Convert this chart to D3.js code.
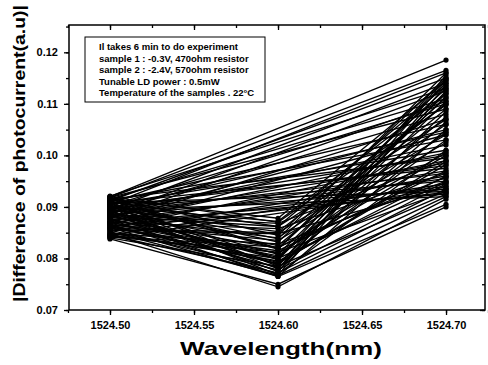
<!DOCTYPE html>
<html><head><meta charset="utf-8">
<script src="https://cdn.jsdelivr.net/npm/d3@7/dist/d3.min.js"></script>
<style>body{margin:0;background:#fff}svg{display:block}text{font-family:"Liberation Sans",Arial,sans-serif;font-weight:bold}</style>
</head><body>
<svg id="c" width="488" height="365"></svg>
<script>
const wavelengths = [1524.50, 1524.60, 1524.70];
const xTicks = [1524.50, 1524.55, 1524.60, 1524.65, 1524.70];
const yTicks = [0.07, 0.08, 0.09, 0.10, 0.11, 0.12];
const notes = [
  "Il takes 6 min  to do experiment",
  "sample 1 : -0.3V, 470ohm resistor",
  "sample 2 : -2.4V, 570ohm resistor",
  "Tunable LD power : 0.5mW",
  "Temperature of the samples . 22\u00B0C"
];
// photocurrent difference at 1524.50 nm
const at1 = [0.0920,0.0918,0.0905,0.0912,0.0895,0.0921,0.0885,0.0915,0.0902,0.0878,
0.0918,0.0890,0.0870,0.0910,0.0880,0.0898,0.0865,0.0912,0.0888,0.0905,
0.0872,0.0895,0.0915,0.0860,0.0882,0.0900,0.0908,0.0868,0.0890,0.0852,
0.0875,0.0898,0.0845,0.0862,0.0885,0.0908,0.0840,0.0870,0.0893,0.0858,
0.0915,0.0900,0.0885,0.0910,0.0870,0.0895,0.0855,0.0918,0.0880,0.0865,
0.0902,0.0848,0.0890,0.0875,0.0912,0.0858,0.0842,0.0897,0.0868,0.0883,
0.0906,0.0850,0.0878,0.0862,0.0893,0.0840,0.0872,0.0903,0.0855,0.0886,
0.0845,0.0866,0.0898,0.0852,0.0876,0.0860,0.0838,0.0848,0.0910,0.0888,
0.0870,0.0843,0.0905,0.0858,0.0882,0.0920,0.0846,0.0892,0.0864,0.0916];
// at 1524.60 nm (null: not measured for that run)
const at2 = [null,null,null,null,null,null,null,null,null,null,
null,null,null,null,null,null,null,null,null,null,
null,null,null,null,null,null,null,null,null,null,
null,null,null,null,null,null,null,null,null,null,
0.0878,0.0872,0.0868,0.0862,0.0858,0.0852,0.0848,0.0845,0.0840,0.0835,
0.0832,0.0828,0.0825,0.0820,0.0818,0.0815,0.0812,0.0808,0.0805,0.0802,
0.0798,0.0795,0.0792,0.0790,0.0788,0.0785,0.0782,0.0780,0.0778,0.0775,
0.0772,0.0770,0.0768,0.0767,0.0765,0.0765,0.0750,0.0745,0.0785,0.0798,
0.0810,0.0822,0.0838,0.0850,0.0862,0.0870,0.0800,0.0775,0.0790,0.0820];
// at 1524.70 nm
const at3 = [0.1185,0.1165,0.1160,0.1150,0.1140,0.1130,0.1125,0.1110,0.1100,0.1105,
0.1090,0.1080,0.1070,0.1060,0.1050,0.1045,0.1040,0.1030,0.1020,0.1010,
0.1005,0.1000,0.0995,0.0990,0.0985,0.0980,0.0975,0.0970,0.0965,0.0960,
0.0955,0.0950,0.0945,0.0940,0.0935,0.0930,0.0935,0.0925,0.0920,0.0928,
0.1145,0.1120,0.0990,0.1135,0.0965,0.1100,0.0940,0.1150,0.1060,0.1025,
0.1130,0.0950,0.1090,0.1005,0.1140,0.0970,0.0930,0.1120,0.1045,0.1075,
0.1148,0.0960,0.1030,0.0988,0.1105,0.0925,0.1065,0.1125,0.0945,0.1085,
0.0935,0.1010,0.1135,0.0920,0.1050,0.0905,0.0900,0.0915,0.1155,0.1115,
0.1000,0.0958,0.1160,0.1040,0.1070,0.1098,0.0948,0.1145,0.0982,0.1112];

const svg = d3.select("#c");
const L = 69, R = 485, T = 25, B = 310;
const x = d3.scaleLinear().domain([1524.4756, 1524.7232]).range([L, R]);
const y = d3.scaleLinear().domain([0.07, 0.1253]).range([B, T]);

const runs = at1.map((v, i) => [[wavelengths[0], v], [wavelengths[1], at2[i]], [wavelengths[2], at3[i]]]
  .filter(p => p[1] !== null));
const line = d3.line().x(d => x(d[0])).y(d => y(d[1]));
const g = svg.append("g");
g.selectAll("path.run").data(runs).join("path").attr("class", "run")
  .attr("d", line).attr("fill", "none").attr("stroke", "#000").attr("stroke-width", 1.35);
g.selectAll("circle").data(runs.flat()).join("circle")
  .attr("cx", d => x(d[0])).attr("cy", d => y(d[1])).attr("r", 2.6).attr("fill", "#000");

// frame
svg.append("rect").attr("x", L).attr("y", T).attr("width", R - L).attr("height", B - T)
  .attr("fill", "none").attr("stroke", "#000").attr("stroke-width", 1.5);

const xMinor = d3.range(1524.475, 1524.7251, 0.025);
const yMinor = d3.range(0.07, 0.1251, 0.005);
function styleAxis(sel) { sel.select(".domain").remove(); sel.selectAll("line").attr("stroke", "#000").attr("stroke-width", 1.3); sel.selectAll("text").attr("font-size", 11).attr("fill", "#000"); }

svg.append("g").attr("transform", `translate(0,${B})`)
  .call(d3.axisBottom(x).tickValues(xMinor).tickSize(3).tickFormat("")).call(styleAxis);
svg.append("g").attr("transform", `translate(0,${B})`)
  .call(d3.axisBottom(x).tickValues(xTicks).tickSize(5).tickPadding(6).tickFormat(d3.format(".2f"))).call(styleAxis);
svg.append("g").attr("transform", `translate(0,${T})`)
  .call(d3.axisBottom(x).tickValues(xMinor).tickSize(3).tickFormat("")).call(styleAxis);
svg.append("g").attr("transform", `translate(0,${T})`)
  .call(d3.axisBottom(x).tickValues(xTicks).tickSize(5).tickFormat("")).call(styleAxis);

svg.append("g").attr("transform", `translate(${L},0)`)
  .call(d3.axisLeft(y).tickValues(yMinor).tickSize(3).tickFormat("")).call(styleAxis);
svg.append("g").attr("transform", `translate(${L},0)`)
  .call(d3.axisLeft(y).tickValues(yTicks).tickSize(5).tickPadding(6).tickFormat(d3.format(".2f"))).call(styleAxis);
svg.append("g").attr("transform", `translate(${R},0)`)
  .call(d3.axisLeft(y).tickValues(yMinor).tickSize(3).tickFormat("")).call(styleAxis);
svg.append("g").attr("transform", `translate(${R},0)`)
  .call(d3.axisLeft(y).tickValues(yTicks).tickSize(5).tickFormat("")).call(styleAxis);

// note box
svg.append("rect").attr("x", 85).attr("y", 37).attr("width", 180).attr("height", 65)
  .attr("fill", "#fff").attr("stroke", "#000").attr("stroke-width", 1);
svg.append("g").selectAll("text").data(notes).join("text")
  .attr("x", 99).attr("y", (d, i) => 50 + i * 11.5).attr("font-size", 9.5).text(d => d);

// titles
svg.append("text").attr("x", 180).attr("y", 355)
  .attr("font-size", 19).attr("textLength", 202).attr("lengthAdjust", "spacingAndGlyphs").text("Wavelength(nm)");
svg.append("text").attr("transform", "translate(25,302) rotate(-90)")
  .attr("font-size", 16).attr("textLength", 297).attr("lengthAdjust", "spacingAndGlyphs")
  .text("|Difference of photocurrent(a.u)|");
</script>
</body></html>
